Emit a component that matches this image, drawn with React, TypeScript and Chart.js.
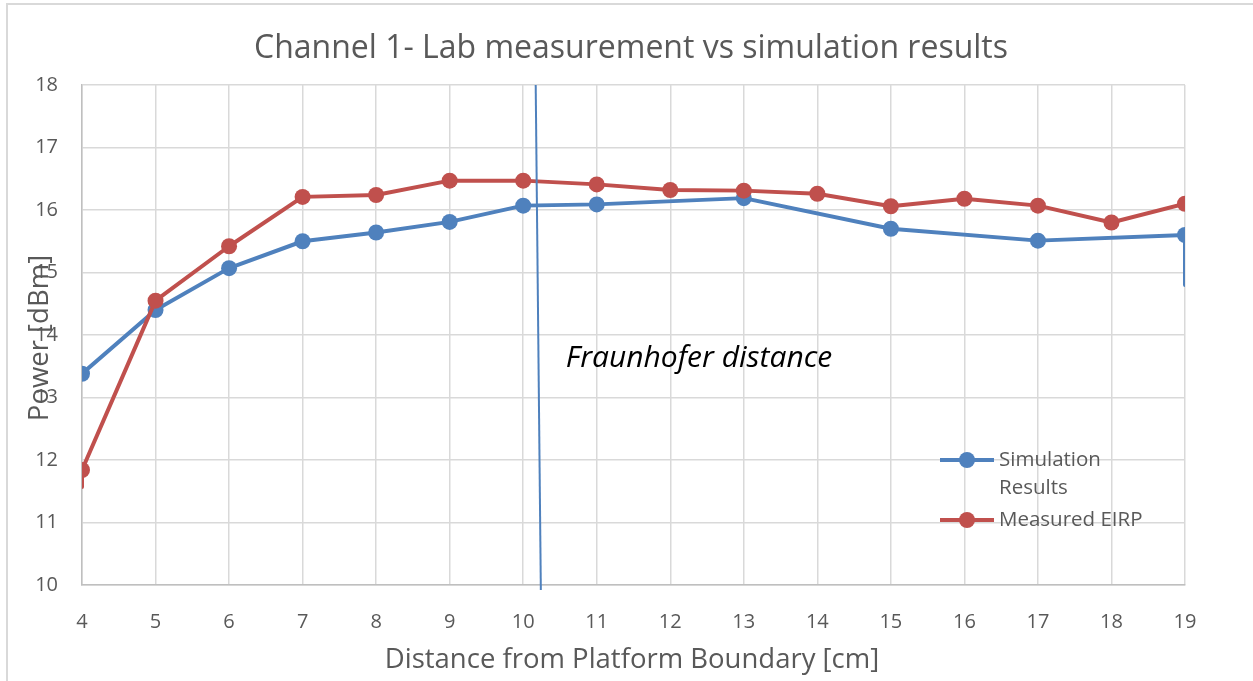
import React, { useEffect, useRef } from "react";
import { Chart, registerables } from "chart.js";

Chart.register(...registerables);

const TITLE = "Channel 1- Lab measurement vs simulation results";
const X_TITLE = "Distance from Platform Boundary [cm]";
const Y_TITLE = "Power [dBm]";
const ANNOTATION = "Fraunhofer distance";

// Simulation results (x in cm, y in dBm); last point is the short drop-off tail
const simX = [4, 5, 6, 7, 8, 9, 10, 11, 13, 15, 17, 19, 19];
const simY = [13.38, 14.4, 15.07, 15.5, 15.64, 15.81, 16.07, 16.09, 16.19, 15.7, 15.51, 15.6, 14.8];
const simMarker = [1, 1, 1, 1, 1, 1, 1, 1, 1, 1, 1, 1, 0];

// Measured EIRP; first point is the short tail below the first marker
const meaX = [4, 4, 5, 6, 7, 8, 9, 10, 11, 12, 13, 14, 15, 16, 17, 18, 19];
const meaY = [11.57, 11.84, 14.55, 15.42, 16.21, 16.24, 16.47, 16.47, 16.41, 16.32, 16.31, 16.26, 16.06, 16.18, 16.07, 15.8, 16.1];
const meaMarker = [0, 1, 1, 1, 1, 1, 1, 1, 1, 1, 1, 1, 1, 1, 1, 1, 1];

// Fraunhofer distance marker line
const fraunX = [10.17, 10.24];
const fraunY = [18, 9.92];

// Annotation anchor (data coordinates)
const annX = 10.58;
const annY = 13.49;

const xMin = 4, xMax = 19, yMin = 10, yMax = 18;

const BLUE = "#4F81BD";
const RED = "#C0504D";
const TEXT = "#595959";
const GRID = "#D9D9D9";
const FONT = "'Open Sans', sans-serif";

export default function App() {
  const ref = useRef<HTMLCanvasElement | null>(null);

  useEffect(() => {
    const canvas = ref.current;
    if (!canvas) return;

    const decor = {
      id: "decor",
      beforeDraw(chart: any) {
        const ctx = chart.ctx;
        ctx.save();
        ctx.fillStyle = "#ffffff";
        ctx.fillRect(0, 0, chart.width, chart.height);
        ctx.strokeStyle = GRID;
        ctx.lineWidth = 2;
        ctx.strokeRect(7, 4, 1400, 800);
        ctx.restore();
      },
      afterDraw(chart: any) {
        const ctx = chart.ctx;
        const xs = chart.scales.x;
        const ys = chart.scales.y;
        ctx.save();
        // Title
        ctx.fillStyle = TEXT;
        ctx.font = `32px ${FONT}`;
        ctx.textAlign = "center";
        ctx.textBaseline = "alphabetic";
        ctx.fillText(TITLE, 631, 58);
        // X title
        ctx.font = `27.5px ${FONT}`;
        ctx.fillText(X_TITLE, 632, 668);
        // Y title (rotated)
        ctx.save();
        ctx.translate(48, 338);
        ctx.rotate(-Math.PI / 2);
        ctx.fillText(Y_TITLE, 0, 0);
        ctx.restore();
        // Annotation
        ctx.fillStyle = "#000000";
        ctx.font = `italic 30px ${FONT}`;
        ctx.textAlign = "left";
        ctx.fillText(ANNOTATION, xs.getPixelForValue(annX), ys.getPixelForValue(annY));
        // Legend
        const items = [
          { color: BLUE, lines: ["Simulation", "Results"], y: 460 },
          { color: RED, lines: ["Measured EIRP"], y: 520 },
        ];
        ctx.font = `20.5px ${FONT}`;
        ctx.textBaseline = "middle";
        for (const it of items) {
          ctx.strokeStyle = it.color;
          ctx.lineWidth = 4;
          ctx.beginPath();
          ctx.moveTo(940, it.y);
          ctx.lineTo(994, it.y);
          ctx.stroke();
          ctx.fillStyle = it.color;
          ctx.beginPath();
          ctx.arc(967, it.y, 8, 0, Math.PI * 2);
          ctx.fill();
          ctx.fillStyle = TEXT;
          it.lines.forEach((t, i) => ctx.fillText(t, 999, it.y + i * 28));
        }
        ctx.restore();
      },
    };

    const chart = new Chart(canvas, {
      type: "scatter",
      data: {
        datasets: [
          {
            label: "Simulation Results",
            data: simX.map((x, i) => ({ x, y: simY[i] })),
            showLine: true,
            borderColor: BLUE,
            backgroundColor: BLUE,
            borderWidth: 4,
            pointRadius: simMarker.map((m) => (m ? 8 : 0)),
            pointBorderWidth: 0,
            borderCapStyle: "round",
            borderJoinStyle: "round",
            order: 2,
          },
          {
            label: "Measured EIRP",
            data: meaX.map((x, i) => ({ x, y: meaY[i] })),
            showLine: true,
            borderColor: RED,
            backgroundColor: RED,
            borderWidth: 4,
            pointRadius: meaMarker.map((m) => (m ? 8 : 0)),
            pointBorderWidth: 0,
            borderCapStyle: "round",
            borderJoinStyle: "round",
            order: 1,
          },
          {
            label: "Fraunhofer",
            data: fraunX.map((x, i) => ({ x, y: fraunY[i] })),
            showLine: true,
            borderColor: BLUE,
            borderWidth: 2,
            pointRadius: 0,
            clip: false as any,
            order: 0,
          },
        ],
      },
      options: {
        responsive: false,
        animation: false,
        devicePixelRatio: 1,
        layout: { padding: { top: 85, right: 68, left: 0, bottom: 0 } },
        plugins: {
          legend: { display: false },
          title: { display: false },
          tooltip: { enabled: false },
        },
        scales: {
          x: {
            type: "linear",
            min: xMin,
            max: xMax,
            ticks: { stepSize: 1, color: TEXT, font: { family: FONT, size: 20 }, padding: 25 },
            grid: { color: GRID, lineWidth: 1.5, drawTicks: false },
            border: { color: "#BFBFBF", width: 1.5 },
            afterFit: (s: any) => { s.height = 96; },
          },
          y: {
            type: "linear",
            min: yMin,
            max: yMax,
            ticks: { stepSize: 1, color: TEXT, font: { family: FONT, size: 20 }, padding: 24 },
            grid: { color: GRID, lineWidth: 1.5, drawTicks: false },
            border: { color: "#BFBFBF", width: 1.5 },
            afterFit: (s: any) => { s.width = 82; },
          },
        },
      },
      plugins: [decor],
    } as any);

    return () => chart.destroy();
  }, []);

  return (
    <div style={{ position: "absolute", left: 0, top: 0, width: 1253, height: 681, background: "#fff" }}>
      <canvas ref={ref} width={1253} height={681} style={{ display: "block", width: 1253, height: 681 }} />
    </div>
  );
}
